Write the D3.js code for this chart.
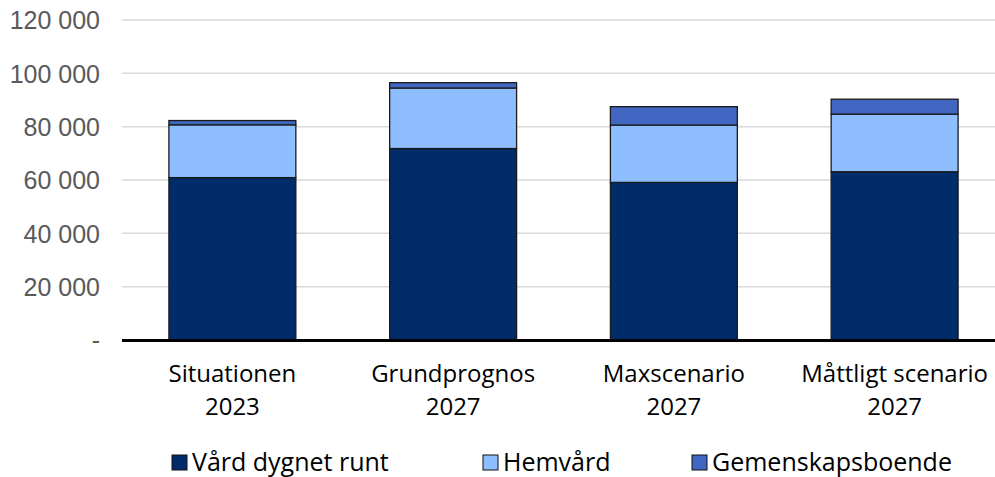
<!DOCTYPE html>
<html>
<head>
<meta charset="utf-8">
<script src="https://cdn.jsdelivr.net/npm/d3@7"></script>
<style>
  html, body { margin: 0; padding: 0; background: #fff; }
  svg { display: block; font-family: "Open Sans", "Noto Sans", sans-serif; }
</style>
</head>
<body>
<svg id="chart" width="995" height="477"></svg>
<script>
// Antal platser per scenario och vårdform
const categories = [["Situationen", "2023"], ["Grundprognos", "2027"], ["Maxscenario", "2027"], ["Måttligt scenario", "2027"]];
const seriesNames = ["Vård dygnet runt", "Hemvård", "Gemenskapsboende"];
const vardDygnetRunt = [60900, 71800, 59100, 63100];
const hemvard = [19800, 22700, 21500, 21600];
const gemenskapsboende = [1600, 2000, 6900, 5600];
const yTicks = [0, 20000, 40000, 60000, 80000, 100000, 120000];
const colors = ["#002D6A", "#8EBEFF", "#4166C2"];

const svg = d3.select("#chart");

const rows = categories.map((c, i) => ({
  key: i,
  "Vård dygnet runt": vardDygnetRunt[i],
  "Hemvård": hemvard[i],
  "Gemenskapsboende": gemenskapsboende[i]
}));

const x = d3.scaleBand().domain(d3.range(categories.length)).range([122, 1005]).paddingInner(0.425).paddingOuter(0.2125);
const y = d3.scaleLinear().domain([0, 120000]).range([340, 20]);

const fmt = v => v === 0 ? "-" : d3.format(",")(v).replace(/,/g, " ");

// rutnät
svg.append("g")
  .selectAll("line")
  .data(yTicks.filter(t => t > 0))
  .join("line")
  .attr("x1", 122).attr("x2", 995)
  .attr("y1", d => y(d)).attr("y2", d => y(d))
  .attr("stroke", "#d9d9d9").attr("stroke-width", 1.5);

// y-axel
const yAxis = svg.append("g")
  .attr("transform", "translate(122,0)")
  .call(d3.axisLeft(y).tickValues(yTicks).tickFormat(fmt).tickSize(0).tickPadding(22));
yAxis.select(".domain").remove();
yAxis.selectAll("text")
  .attr("fill", "#595959")
  .style("font-size", "25px")
  .attr("dy", "0.35em");

// staplar
const stack = d3.stack().keys(seriesNames)(rows);
svg.append("g")
  .selectAll("g")
  .data(stack)
  .join("g")
  .attr("fill", (d, i) => colors[i])
  .selectAll("rect")
  .data(d => d)
  .join("rect")
  .attr("x", d => x(d.data.key))
  .attr("width", x.bandwidth())
  .attr("y", d => y(d[1]))
  .attr("height", d => y(d[0]) - y(d[1]))
  .attr("stroke", "#1a1a1a")
  .attr("stroke-width", 1.3);

// x-axel
svg.append("line")
  .attr("x1", 122).attr("x2", 995)
  .attr("y1", y(0) + 0.5).attr("y2", y(0) + 0.5)
  .attr("stroke", "#000").attr("stroke-width", 3);

// kategorietiketter, två rader var
const lineY = [382, 415];
const catGroups = svg.append("g")
  .selectAll("g")
  .data(categories)
  .join("g")
  .attr("transform", (d, i) => `translate(${x(i) + x.bandwidth() / 2},0)`);
catGroups.selectAll("text")
  .data(d => d)
  .join("text")
  .attr("text-anchor", "middle")
  .attr("fill", "#000")
  .style("font-size", "24px")
  .attr("y", (d, i) => lineY[i])
  .text(d => d);

// teckenförklaring
const legendX = [172, 483, 692];
const legend = svg.append("g")
  .selectAll("g")
  .data(seriesNames)
  .join("g")
  .attr("transform", (d, i) => `translate(${legendX[i]},455)`);
legend.append("rect")
  .attr("width", 15).attr("height", 15)
  .attr("fill", (d, i) => colors[i])
  .attr("stroke", "#111").attr("stroke-width", 1);
legend.append("text")
  .attr("x", 20).attr("y", 16)
  .attr("fill", "#000")
  .style("font-size", "25px")
  .text(d => d);
</script>
</body>
</html>
